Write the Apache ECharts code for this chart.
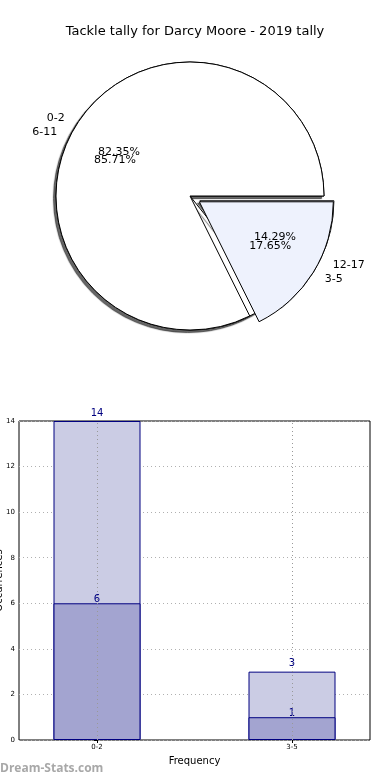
<!DOCTYPE html>
<html>
<head>
<meta charset="utf-8">
<script src="https://cdn.jsdelivr.net/npm/echarts@6/dist/echarts.min.js"></script>
<style>html,body{margin:0;padding:0;background:#fff}#c{width:390px;height:780px}</style>
</head>
<body>
<div id="c"></div>
<script>
const titleText = 'Tackle tally for Darcy Moore - 2019 tally';
const pieOuterNames = ['0-2', '3-5'];
const pieOuterValues = [14, 3];
const pieInnerNames = ['6-11', '12-17'];
const pieInnerValues = [6, 1];
const barCategories = ['0-2', '3-5'];
const barTotals = [14, 3];
const barLower = [6, 1];
const yTicks = [0, 2, 4, 6, 8, 10, 12, 14];

const FONT = 'DejaVu Sans';
const R = 134;
const CENTER = [190, 196];
const sliceColors = ['#ffffff', '#eef2fd'];

function pieData(names, values) {
  return names.map((n, i) => ({
    name: n, value: values[i], selected: i === 1,
    itemStyle: { color: sliceColors[i] }
  }));
}
function slicePie(names, values, z, withShadow) {
  const itemStyle = { borderColor: '#000', borderWidth: 1 };
  if (withShadow) Object.assign(itemStyle, { shadowColor: 'rgba(0,0,0,0.6)', shadowBlur: 1, shadowOffsetX: -2.5, shadowOffsetY: 2.5 });
  return {
    type: 'pie', center: CENTER, radius: [0, R], startAngle: 0, clockwise: false,
    selectedMode: 'multiple', selectedOffset: 11, avoidLabelOverlap: false,
    silent: true, animation: false, z: z,
    itemStyle: itemStyle,
    label: { show: true, position: 'outside', formatter: '{b}', color: '#000', fontFamily: FONT, fontSize: 11, distanceToLabelLine: 0 },
    labelLine: { show: false, length: R * 0.1, length2: 0 },
    labelLayout: { hideOverlap: false },
    emphasis: { disabled: true },
    data: pieData(names, values)
  };
}
function pctPie(names, values, z) {
  return {
    type: 'pie', center: CENTER, radius: [R * 0.2, R], startAngle: 0, clockwise: false,
    selectedMode: 'multiple', selectedOffset: 11, avoidLabelOverlap: false,
    silent: true, animation: false, z: z,
    itemStyle: { color: 'rgba(255,255,255,0)', borderWidth: 0 },
    label: { show: true, position: 'inside', formatter: '{d}%', color: '#000', fontFamily: FONT, fontSize: 11 },
    labelLine: { show: false },
    labelLayout: { hideOverlap: false },
    emphasis: { disabled: true },
    data: names.map((n, i) => ({ name: n, value: values[i], selected: i === 1 }))
  };
}

const chart = echarts.init(document.getElementById('c'), null, { renderer: 'canvas' });
chart.setOption({
  animation: false,
  backgroundColor: '#fff',
  title: { text: titleText, left: 'center', top: 20, textStyle: { fontFamily: FONT, fontSize: 13, fontWeight: 'normal', color: '#000' } },
  graphic: [{ type: 'text', left: 0, top: 763, style: { text: 'Dream-Stats.com', fill: '#a8a8a8', font: 'bold 12px "Open Sans"' } }],
  grid: { left: 19, right: 20, top: 421, bottom: 40, containLabel: false, outerBoundsMode: 'none', show: true, borderColor: '#000', borderWidth: 1, backgroundColor: 'transparent' },
  xAxis: {
    type: 'value', min: -0.4, max: 1.4,
    name: 'Frequency', nameLocation: 'middle', nameGap: 16,
    nameTextStyle: { fontFamily: FONT, fontSize: 10, color: '#000' },
    axisLine: { show: false },
    axisTick: { show: true, customValues: [0, 1], length: 3, lineStyle: { color: '#000' } },
    axisLabel: { customValues: [0, 1], formatter: v => barCategories[Math.round(v)], fontFamily: FONT, fontSize: 7, color: '#000', margin: 4 },
    splitLine: { show: false }
  },
  yAxis: {
    type: 'value', min: 0, max: 14, interval: 2,
    name: 'Occurrences', nameLocation: 'middle', nameGap: 15, nameRotate: 90, nameMoveOverlap: false,
    nameTextStyle: { fontFamily: FONT, fontSize: 10, color: '#000' },
    axisLine: { show: false },
    axisTick: { show: true, length: 3, lineStyle: { color: '#000' } },
    axisLabel: { formatter: v => yTicks.includes(v) ? String(v) : '', fontFamily: FONT, fontSize: 7, color: '#000', margin: 4 },
    splitLine: { show: true, lineStyle: { color: '#b0b0b0', type: [1, 3], width: 1 } }
  },
  series: [
    slicePie(pieInnerNames, pieInnerValues, 2, true),
    slicePie(pieOuterNames, pieOuterValues, 3, false),
    pctPie(pieInnerNames, pieInnerValues, 4),
    pctPie(pieOuterNames, pieOuterValues, 5),
    {
      type: 'bar', name: 'total', barWidth: 87, barGap: '-100%', z: 2,
      data: barTotals.map((v, i) => [i, v]),
      itemStyle: { color: '#cbcce4', borderColor: '#000080', borderWidth: 1 },
      label: { show: true, position: 'top', distance: 3, color: '#000080', fontFamily: FONT, fontSize: 10 },
      markLine: {
        silent: true, symbol: 'none', label: { show: false },
        lineStyle: { color: '#999', type: [1, 3], width: 1 },
        data: barCategories.map((c, i) => ({ xAxis: i }))
      }
    },
    {
      type: 'bar', name: 'lower', barWidth: 87, barGap: '-100%', z: 3,
      data: barLower.map((v, i) => [i, v]),
      itemStyle: { color: '#a3a4d0', borderColor: '#000080', borderWidth: 1 },
      label: { show: true, position: 'top', distance: -1, color: '#000080', fontFamily: FONT, fontSize: 10 }
    }
  ]
});
</script>
</body>
</html>
